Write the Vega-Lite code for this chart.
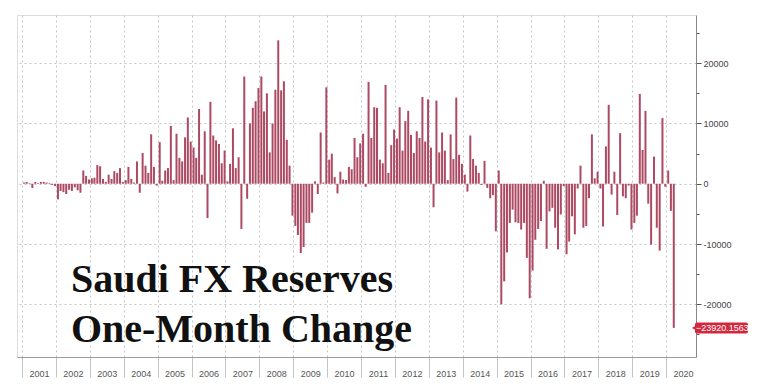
{
  "$schema": "https://vega.github.io/schema/vega-lite/v6.json",
  "width": 679,
  "height": 342,
  "autosize": {"type": "none"},
  "padding": {"left": 17, "top": 15, "right": 64, "bottom": 33},
  "background": "white",
  "locale": {"number": {"decimal": ".", "thousands": ",", "grouping": [3], "currency": ["$", ""], "minus": "-"}},
  "data": {"values": [
    {"d":"2001-01-31","v":200},{"d":"2001-02-28","v":300},{"d":"2001-03-31","v":100},{"d":"2001-04-30","v":-700},{"d":"2001-05-31","v":300},{"d":"2001-06-30","v":100},{"d":"2001-07-31","v":300},{"d":"2001-08-31","v":300},{"d":"2001-09-30","v":200},{"d":"2001-10-31","v":100},{"d":"2001-11-30","v":-200},{"d":"2001-12-31","v":-400},
    {"d":"2002-01-31","v":-2600},{"d":"2002-02-28","v":-1200},{"d":"2002-03-31","v":-1400},{"d":"2002-04-30","v":-1700},{"d":"2002-05-31","v":-1000},{"d":"2002-06-30","v":-1200},{"d":"2002-07-31","v":-600},{"d":"2002-08-31","v":-1100},{"d":"2002-09-30","v":-1500},{"d":"2002-10-31","v":2200},{"d":"2002-11-30","v":1300},{"d":"2002-12-31","v":700},
    {"d":"2003-01-31","v":900},{"d":"2003-02-28","v":1000},{"d":"2003-03-31","v":3100},{"d":"2003-04-30","v":2900},{"d":"2003-05-31","v":800},{"d":"2003-06-30","v":300},{"d":"2003-07-31","v":1500},{"d":"2003-08-31","v":800},{"d":"2003-09-30","v":2100},{"d":"2003-10-31","v":1800},{"d":"2003-11-30","v":2600},{"d":"2003-12-31","v":300},
    {"d":"2004-01-31","v":600},{"d":"2004-02-29","v":2800},{"d":"2004-03-31","v":800},{"d":"2004-04-30","v":200},{"d":"2004-05-31","v":3700},{"d":"2004-06-30","v":-1500},{"d":"2004-07-31","v":5100},{"d":"2004-08-31","v":3000},{"d":"2004-09-30","v":1800},{"d":"2004-10-31","v":8200},{"d":"2004-11-30","v":2800},{"d":"2004-12-31","v":-300},
    {"d":"2005-01-31","v":6900},{"d":"2005-02-28","v":500},{"d":"2005-03-31","v":2200},{"d":"2005-04-30","v":2600},{"d":"2005-05-31","v":9600},{"d":"2005-06-30","v":600},{"d":"2005-07-31","v":8300},{"d":"2005-08-31","v":4300},{"d":"2005-09-30","v":3700},{"d":"2005-10-31","v":7700},{"d":"2005-11-30","v":11000},{"d":"2005-12-31","v":7000},
    {"d":"2006-01-31","v":6000},{"d":"2006-02-28","v":4300},{"d":"2006-03-31","v":12400},{"d":"2006-04-30","v":1500},{"d":"2006-05-31","v":8700},{"d":"2006-06-30","v":-5700},{"d":"2006-07-31","v":13600},{"d":"2006-08-31","v":8000},{"d":"2006-09-30","v":7200},{"d":"2006-10-31","v":6600},{"d":"2006-11-30","v":3400},{"d":"2006-12-31","v":5500},
    {"d":"2007-01-31","v":400},{"d":"2007-02-28","v":3300},{"d":"2007-03-31","v":9200},{"d":"2007-04-30","v":2600},{"d":"2007-05-31","v":4400},{"d":"2007-06-30","v":-7500},{"d":"2007-07-31","v":17800},{"d":"2007-08-31","v":-2500},{"d":"2007-09-30","v":10000},{"d":"2007-10-31","v":12600},{"d":"2007-11-30","v":13700},{"d":"2007-12-31","v":15900},
    {"d":"2008-01-31","v":17800},{"d":"2008-02-29","v":12000},{"d":"2008-03-31","v":15000},{"d":"2008-04-30","v":5200},{"d":"2008-05-31","v":10000},{"d":"2008-06-30","v":15600},{"d":"2008-07-31","v":23800},{"d":"2008-08-31","v":15500},{"d":"2008-09-30","v":17000},{"d":"2008-10-31","v":7300},{"d":"2008-11-30","v":3000},{"d":"2008-12-31","v":-5300},
    {"d":"2009-01-31","v":-7000},{"d":"2009-02-28","v":-8500},{"d":"2009-03-31","v":-11500},{"d":"2009-04-30","v":-10500},{"d":"2009-05-31","v":-6500},{"d":"2009-06-30","v":-6500},{"d":"2009-07-31","v":-4800},{"d":"2009-08-31","v":400},{"d":"2009-09-30","v":-1700},{"d":"2009-10-31","v":8500},{"d":"2009-11-30","v":200},{"d":"2009-12-31","v":16000},
    {"d":"2010-01-31","v":4000},{"d":"2010-02-28","v":5000},{"d":"2010-03-31","v":1100},{"d":"2010-04-30","v":-1600},{"d":"2010-05-31","v":2000},{"d":"2010-06-30","v":700},{"d":"2010-07-31","v":600},{"d":"2010-08-31","v":2800},{"d":"2010-09-30","v":2400},{"d":"2010-10-31","v":7600},{"d":"2010-11-30","v":4400},{"d":"2010-12-31","v":6700},
    {"d":"2011-01-31","v":8300},{"d":"2011-02-28","v":-500},{"d":"2011-03-31","v":16900},{"d":"2011-04-30","v":7600},{"d":"2011-05-31","v":12700},{"d":"2011-06-30","v":12600},{"d":"2011-07-31","v":4000},{"d":"2011-08-31","v":3400},{"d":"2011-09-30","v":16400},{"d":"2011-10-31","v":1800},{"d":"2011-11-30","v":6400},{"d":"2011-12-31","v":9000},
    {"d":"2012-01-31","v":7500},{"d":"2012-02-29","v":12700},{"d":"2012-03-31","v":5500},{"d":"2012-04-30","v":10400},{"d":"2012-05-31","v":12100},{"d":"2012-06-30","v":8100},{"d":"2012-07-31","v":5100},{"d":"2012-08-31","v":8700},{"d":"2012-09-30","v":7600},{"d":"2012-10-31","v":14400},{"d":"2012-11-30","v":7000},{"d":"2012-12-31","v":14000},
    {"d":"2013-01-31","v":6000},{"d":"2013-02-28","v":-3900},{"d":"2013-03-31","v":13800},{"d":"2013-04-30","v":5200},{"d":"2013-05-31","v":8500},{"d":"2013-06-30","v":5500},{"d":"2013-07-31","v":600},{"d":"2013-08-31","v":8200},{"d":"2013-09-30","v":4100},{"d":"2013-10-31","v":14300},{"d":"2013-11-30","v":4800},{"d":"2013-12-31","v":3300},
    {"d":"2014-01-31","v":1500},{"d":"2014-02-28","v":-1300},{"d":"2014-03-31","v":8000},{"d":"2014-04-30","v":4100},{"d":"2014-05-31","v":3000},{"d":"2014-06-30","v":1800},{"d":"2014-07-31","v":-200},{"d":"2014-08-31","v":3800},{"d":"2014-09-30","v":-700},{"d":"2014-10-31","v":-2400},{"d":"2014-11-30","v":-1900},{"d":"2014-12-31","v":-7900},
    {"d":"2015-01-31","v":2200},{"d":"2015-02-28","v":-20000},{"d":"2015-03-31","v":-16200},{"d":"2015-04-30","v":-11400},{"d":"2015-05-31","v":-6500},{"d":"2015-06-30","v":-4300},{"d":"2015-07-31","v":-6400},{"d":"2015-08-31","v":-6500},{"d":"2015-09-30","v":-7600},{"d":"2015-10-31","v":-6500},{"d":"2015-11-30","v":-12300},{"d":"2015-12-31","v":-19000},
    {"d":"2016-01-31","v":-14400},{"d":"2016-02-29","v":-9300},{"d":"2016-03-31","v":-7500},{"d":"2016-04-30","v":-6200},{"d":"2016-05-31","v":500},{"d":"2016-06-30","v":-10800},{"d":"2016-07-31","v":-4600},{"d":"2016-08-31","v":-4000},{"d":"2016-09-30","v":-7300},{"d":"2016-10-31","v":-10900},{"d":"2016-11-30","v":-5100},{"d":"2016-12-31","v":-400},
    {"d":"2017-01-31","v":-11700},{"d":"2017-02-28","v":-9600},{"d":"2017-03-31","v":-5400},{"d":"2017-04-30","v":-8400},{"d":"2017-05-31","v":-800},{"d":"2017-06-30","v":3000},{"d":"2017-07-31","v":-7300},{"d":"2017-08-31","v":-7000},{"d":"2017-09-30","v":-2400},{"d":"2017-10-31","v":8200},{"d":"2017-11-30","v":900},{"d":"2017-12-31","v":2000},
    {"d":"2018-01-31","v":-800},{"d":"2018-02-28","v":-7100},{"d":"2018-03-31","v":6200},{"d":"2018-04-30","v":13100},{"d":"2018-05-31","v":-1800},{"d":"2018-06-30","v":2000},{"d":"2018-07-31","v":-5200},{"d":"2018-08-31","v":8400},{"d":"2018-09-30","v":-2100},{"d":"2018-10-31","v":-2400},{"d":"2018-11-30","v":-300},{"d":"2018-12-31","v":-7600},
    {"d":"2019-01-31","v":-6500},{"d":"2019-02-28","v":-5300},{"d":"2019-03-31","v":14900},{"d":"2019-04-30","v":5600},{"d":"2019-05-31","v":12100},{"d":"2019-06-30","v":-3300},{"d":"2019-07-31","v":-10100},{"d":"2019-08-31","v":4500},{"d":"2019-09-30","v":-7300},{"d":"2019-10-31","v":-11100},{"d":"2019-11-30","v":10900},{"d":"2019-12-31","v":-500},
    {"d":"2020-01-31","v":2200},{"d":"2020-02-29","v":-4500},{"d":"2020-03-31","v":-23920.1563}
  ]},
  "encoding": {
    "x": {
      "field": "d", "type": "temporal",
      "scale": {"domain": [{"year": 2001, "month": 1, "date": 1}, {"year": 2020, "month": 9, "date": 25}], "nice": false},
      "axis": {
        "title": null, "format": "%Y", "tickCount": {"interval": "year", "step": 1},
        "labelAlign": "center", "labelOffset": 17, "labelPadding": -8, "labelFlush": false, "labelOverlap": false,
        "labelFont": "Liberation Sans", "labelFontSize": 9, "labelColor": "#555",
        "tickSize": 20, "tickColor": "#c4c4c4", "domainColor": "#9a9a9a",
        "grid": true, "gridColor": "#c4c4c4", "gridDash": [2, 3]
      }
    },
    "y": {
      "field": "v", "type": "quantitative",
      "scale": {"domain": [-28750, 28000], "nice": false, "zero": false},
      "axis": {
        "title": null, "orient": "right",
        "values": [-25000, -20000, -15000, -10000, -5000, 0, 5000, 10000, 15000, 20000, 25000],
        "labelExpr": "datum.value % 10000 === 0 ? '' + datum.value : ''",
        "labelFont": "Liberation Sans", "labelFontSize": 9, "labelColor": "#444", "labelPadding": 2,
        "tickColor": "#555",
        "tickSize": {"condition": {"test": "datum.value % 10000 === 0", "value": 5}, "value": 3},
        "domainColor": "#888",
        "grid": true, "gridColor": "#c4c4c4", "gridDash": [2, 3],
        "gridOpacity": {"condition": {"test": "datum.value % 10000 === 0", "value": 1}, "value": 0}
      }
    }
  },
  "layer": [
    {
      "mark": {"type": "bar", "width": 2, "color": "#ad4a63", "xOffset": -0.7}
    },
    {
      "transform": [{"filter": "datum.v < -23000"}],
      "mark": {"type": "text", "text": ["Saudi FX Reserves", "One-Month Change"], "font": "Liberation Serif", "fontWeight": "bold", "fontSize": 40, "color": "#111111", "align": "left", "baseline": "alphabetic", "lineHeight": 50},
      "encoding": {
        "x": {"datum": {"year": 2002, "month": 6, "date": 12}, "type": "temporal"},
        "y": {"datum": -17900, "type": "quantitative"}
      }
    },
    {
      "transform": [{"filter": "datum.v < -23000"}],
      "mark": {"type": "rect", "color": "#d2283e", "cornerRadius": 2, "xOffset": 4, "x2Offset": 57, "yOffset": -5.5, "y2Offset": 5.5},
      "encoding": {
        "x": {"datum": {"year": 2020, "month": 9, "date": 25}, "type": "temporal"},
        "x2": {"datum": {"year": 2020, "month": 9, "date": 25}},
        "y": {"field": "v", "type": "quantitative"},
        "y2": {"field": "v"}
      }
    },
    {
      "transform": [{"filter": "datum.v < -23000"}],
      "mark": {"type": "point", "shape": "triangle-left", "filled": true, "size": 22, "color": "#d2283e", "opacity": 1, "xOffset": 3},
      "encoding": {
        "x": {"datum": {"year": 2020, "month": 9, "date": 25}, "type": "temporal"},
        "y": {"field": "v", "type": "quantitative"}
      }
    },
    {
      "transform": [{"filter": "datum.v < -23000"}],
      "mark": {"type": "text", "align": "left", "baseline": "middle", "dx": 5, "font": "Liberation Sans", "fontSize": 9, "color": "white"},
      "encoding": {
        "x": {"datum": {"year": 2020, "month": 9, "date": 25}, "type": "temporal"},
        "y": {"field": "v", "type": "quantitative"},
        "text": {"field": "v", "type": "quantitative", "format": ".4f"}
      }
    }
  ]
}
